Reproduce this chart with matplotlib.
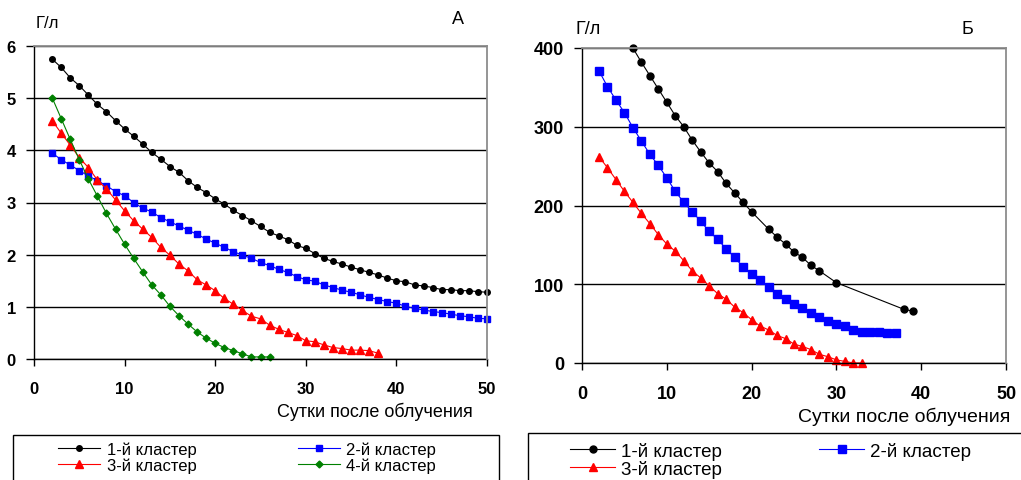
import numpy as np
import matplotlib
matplotlib.use("Agg")
import matplotlib.pyplot as plt
from matplotlib.patches import Rectangle
from matplotlib.lines import Line2D

plt.rcParams['font.family'] = ['Liberation Sans', 'DejaVu Sans']

W, H = 1021, 481

## panel A data (г/л by day)
a_days1 = list(range(2, 51))
a_c1 = [5.75, 5.59, 5.39, 5.24, 5.06, 4.88, 4.74, 4.57, 4.41, 4.27, 4.12, 3.96, 3.83,
        3.69, 3.58, 3.42, 3.29, 3.19, 3.07, 2.97, 2.85, 2.75, 2.65, 2.54, 2.43, 2.36,
        2.29, 2.18, 2.12, 2.02, 1.93, 1.87, 1.82, 1.76, 1.71, 1.66, 1.61, 1.55, 1.50,
        1.48, 1.42, 1.40, 1.37, 1.33, 1.33, 1.31, 1.31, 1.29, 1.28]
a_days2 = list(range(2, 51))
a_c2 = [3.95, 3.82, 3.72, 3.61, 3.51, 3.42, 3.32, 3.21, 3.13, 3.00, 2.89, 2.82, 2.71,
        2.63, 2.55, 2.47, 2.39, 2.30, 2.22, 2.14, 2.06, 1.99, 1.93, 1.85, 1.79, 1.72,
        1.66, 1.58, 1.52, 1.49, 1.42, 1.37, 1.32, 1.28, 1.23, 1.18, 1.14, 1.10, 1.07,
        1.01, 0.97, 0.94, 0.91, 0.89, 0.86, 0.83, 0.81, 0.78, 0.77]
a_days3 = list(range(2, 39))
a_c3 = [4.57, 4.33, 4.10, 3.86, 3.67, 3.43, 3.26, 3.05, 2.84, 2.65, 2.49, 2.33, 2.14,
        1.99, 1.82, 1.69, 1.52, 1.42, 1.31, 1.16, 1.05, 0.93, 0.82, 0.77, 0.65, 0.57,
        0.51, 0.45, 0.35, 0.33, 0.27, 0.22, 0.20, 0.17, 0.17, 0.16, 0.11]
a_days4 = list(range(2, 27))
a_c4 = [5.01, 4.61, 4.21, 3.82, 3.45, 3.12, 2.79, 2.49, 2.20, 1.93, 1.67, 1.42, 1.23,
        1.01, 0.83, 0.67, 0.52, 0.40, 0.30, 0.22, 0.16, 0.10, 0.04, 0.04, 0.04]

## panel B data
b_days1 = [6, 7, 8, 9, 10, 11, 12, 13, 14, 15, 16, 17, 18, 19, 20,
           22, 23, 24, 25, 26, 27, 28, 30, 38, 39]
b_c1 = [400, 382, 365, 348, 331, 314, 300, 283, 268, 254, 243, 228, 216, 204, 192,
        170, 160, 151, 141, 134, 124, 117, 102, 68, 66]
b_days2 = list(range(2, 38))
b_c2 = [371, 351, 334, 318, 299, 282, 265, 251, 235, 218, 204, 192, 180, 167, 157,
        145, 134, 122, 113, 105, 96, 88, 81, 75, 70, 64, 58, 53, 50, 47, 42, 40, 40,
        40, 38, 38]
b_days3 = list(range(2, 34))
b_c3 = [262, 248, 233, 218, 204, 190, 177, 163, 151, 142, 130, 117, 108, 98, 88, 81,
        71, 64, 55, 47, 42, 35, 31, 24, 21, 17, 11, 8, 4, 2, 0, 0]

x_ticks = [0, 10, 20, 30, 40, 50]
a_yticks = [0, 1, 2, 3, 4, 5, 6]
b_yticks = [0, 100, 200, 300, 400]

labels = ["1-й кластер", "2-й кластер", "3-й кластер", "4-й кластер"]
colors = ['black', '#0000ff', '#ff0000', '#008000']


def fx(px):
    return px / W


def fy(py):
    return 1 - py / H


fig = plt.figure(figsize=(W / 100, H / 100), dpi=100)
axA = fig.add_axes([fx(34), fy(360), fx(487) - fx(34), fy(47) - fy(360)])
axB = fig.add_axes([fx(582), fy(364), fx(1006) - fx(582), fy(49) - fy(364)])


def style_axes(ax, yticks, fs):
    ax.set_xlim(0, 50)
    ax.set_ylim(0, yticks[-1])
    ax.set_xticks(x_ticks, labels=[str(t) for t in x_ticks], fontsize=fs, fontweight='bold')
    ax.set_yticks(yticks, labels=[str(t) for t in yticks], fontsize=fs, fontweight='bold')
    ax.yaxis.grid(True, color='black', linewidth=1.0)
    ax.set_axisbelow(True)
    for s in ['top', 'right']:
        ax.spines[s].set_color('#8c8c8c')
        ax.spines[s].set_linewidth(1.3)
        ax.spines[s].set_zorder(3)
    for s in ['left', 'bottom']:
        ax.spines[s].set_color('black')
        ax.spines[s].set_linewidth(1.0)
    ax.tick_params(axis='y', direction='out', length=6, width=1, pad=7)
    ax.tick_params(axis='x', direction='out', length=5, width=1, pad=11)


style_axes(axA, a_yticks, 12)
style_axes(axB, b_yticks, 13)

lw = 0.8
axA.plot(a_days1, a_c1, color=colors[0], marker='o', ms=4, lw=lw, clip_on=False)
axA.plot(a_days2, a_c2, color=colors[1], marker='s', ms=5, lw=lw, clip_on=False)
axA.plot(a_days3, a_c3, color=colors[2], marker='^', ms=5.5, lw=lw, clip_on=False)
axA.plot(a_days4, a_c4, color=colors[3], marker='D', ms=3.5, lw=lw, clip_on=False)

axB.plot(b_days1, b_c1, color=colors[0], marker='o', ms=5, lw=lw, clip_on=False)
axB.plot(b_days2, b_c2, color=colors[1], marker='s', ms=6, lw=lw, clip_on=False)
axB.plot(b_days3, b_c3, color=colors[2], marker='^', ms=5.5, lw=lw, clip_on=False)

# texts
fig.text(fx(36), fy(23), "Г/л", fontsize=12, va='center', ha='left')
fig.text(fx(575), fy(30), "Г/л", fontsize=13, va='center', ha='left')
fig.text(fx(458), fy(20), "А", fontsize=13, va='center', ha='center')
fig.text(fx(967), fy(30), "Б", fontsize=13, va='center', ha='center')
fig.text(fx(473), fy(412), "Сутки после облучения", fontsize=13, va='center', ha='right')
fig.text(fx(1010), fy(417), "Сутки после облучения", fontsize=14, va='center', ha='right')

# legend boxes
fig.patches.append(Rectangle((fx(13), -0.05), fx(499) - fx(13), fy(436) + 0.05,
                             transform=fig.transFigure, fill=False, edgecolor='black', lw=1))
fig.patches.append(Rectangle((fx(528), -0.05), fx(1030) - fx(528), fy(434) + 0.05,
                             transform=fig.transFigure, fill=False, edgecolor='black', lw=1))


def handle(i, ms):
    mk = ['o', 's', '^', 'D'][i]
    return Line2D([], [], color=colors[i], marker=mk, ms=ms, lw=lw)


hA = [handle(0, 4), handle(2, 5.5), handle(1, 5), handle(3, 3.5)]
lA = [labels[0], labels[2], labels[1], labels[3]]
fig.legend(hA, lA, ncol=2, loc='center left', bbox_to_anchor=(fx(50), fy(458)),
           frameon=False, fontsize=12, handlelength=2.5, handletextpad=0.4,
           columnspacing=6.1, labelspacing=0.05, borderpad=0)

hB = [handle(0, 5), handle(2, 5.5), handle(1, 6)]
lB = [labels[0], labels[2], labels[1]]
fig.legend(hB, lB, ncol=2, loc='center left', bbox_to_anchor=(fx(561), fy(461)),
           frameon=False, fontsize=13.5, handlelength=2.4, handletextpad=0.3,
           columnspacing=5.2, labelspacing=0.0, borderpad=0)

fig.savefig("out.png", dpi=100)
